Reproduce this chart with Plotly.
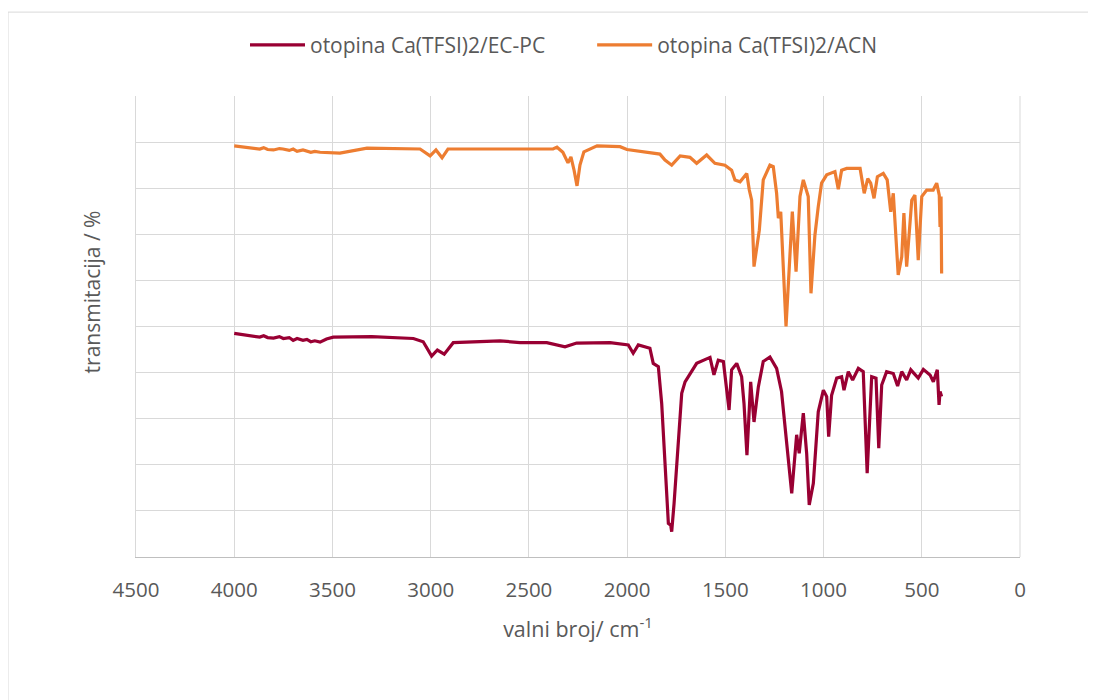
import plotly.graph_objects as go

# ---- data (wavenumber cm-1, transmittance in arbitrary % units) ----
ecpc_wn = [4000, 3960, 3930, 3900, 3870, 3850, 3830, 3800, 3770, 3750, 3720, 3700, 3680, 3650, 3630,
           3610, 3590, 3563, 3530, 3496,
           3300, 3088, 3038, 2995, 2966, 2931, 2885, 2647, 2545, 2409, 2316, 2257, 2087, 1994, 1969,
           1943, 1884, 1867, 1841, 1824, 1807, 1790, 1778, 1773, 1761, 1745, 1722, 1705, 1680, 1646,
           1578, 1558, 1536, 1510, 1481, 1468, 1442, 1417, 1405, 1390, 1371, 1354, 1332, 1307, 1273,
           1239, 1214, 1188, 1162, 1137, 1124, 1103, 1086, 1073, 1052, 1027, 1001, 984, 974, 959,
           933, 908, 896, 874, 852, 823, 798, 778, 755, 733, 719, 704, 679, 645, 623, 602, 577,
           556, 518, 492, 458, 441, 421, 412, 407, 399]
ecpc_t = [48.5, 48.3, 48.1, 48.0, 47.7, 48.0, 47.6, 47.5, 47.8, 47.4, 47.6, 47.0, 47.4, 47.0, 47.2,
          46.7, 46.9, 46.6, 47.3, 47.7,
          47.8, 47.4, 46.7, 43.6, 44.9, 44.0, 46.5, 46.9, 46.5, 46.5, 45.6, 46.4, 46.5, 46.0, 44.2,
          46.0, 45.3, 42.0, 41.3, 33.3, 18.9, 7.3, 6.9, 5.5, 11.6, 22.5, 35.5, 38.0, 39.8, 42.0,
          43.3, 39.5, 42.7, 42.4, 31.9, 40.6, 42.0, 39.1, 33.3, 22.1, 38.0, 29.3, 36.9, 42.4, 43.4,
          40.9, 35.9, 24.7, 13.8, 26.5, 22.5, 31.2, 22.5, 11.3, 16.0, 31.5, 36.2, 34.8, 26.1, 35.1,
          38.8, 39.1, 36.2, 40.2, 38.4, 40.9, 40.2, 18.2, 39.1, 38.8, 23.6, 37.3, 40.2, 39.8, 37.1,
          40.2, 38.4, 40.6, 38.8, 40.7, 39.5, 38.0, 40.6, 33.0, 35.9, 34.8]

acn_wn = [4000, 3960, 3930, 3900, 3870, 3850, 3830, 3800, 3770, 3752, 3720, 3700, 3680, 3650, 3630,
          3610, 3590, 3563, 3462, 3324,
          3054, 3003, 2973, 2942, 2912, 2377, 2357, 2327, 2301, 2286, 2270, 2255, 2240, 2220, 2153,
          2036, 2001, 1833, 1807, 1773, 1730, 1680, 1646, 1595, 1553, 1502, 1468, 1451, 1425, 1391,
          1378, 1366, 1354, 1340, 1327, 1307, 1273, 1256, 1239, 1230, 1218, 1191, 1171, 1159, 1140,
          1120, 1103, 1078, 1064, 1044, 1027, 1010, 984, 942, 925, 908, 882, 814, 793, 775, 760,
          743, 726, 696, 676, 658, 645, 620, 602, 591, 577, 551, 535, 518, 500, 475, 442, 424,
          411, 407, 402, 399]
acn_t = [89.2, 89.0, 88.9, 88.8, 88.5, 88.8, 88.4, 88.3, 88.6, 88.5, 88.2, 88.5, 88.0, 88.3, 88.0,
         87.8, 88.0, 87.8, 87.6, 88.7,
         88.5, 87.0, 88.3, 86.6, 88.5, 88.5, 88.9, 87.8, 85.5, 86.8, 83.9, 80.5, 85.0, 87.9, 89.2,
         89.0, 88.4, 87.4, 86.1, 85.0, 87.0, 86.7, 85.4, 87.2, 85.4, 85.0, 83.9, 81.8, 81.4, 83.2,
         79.6, 77.4, 63.0, 66.6, 70.9, 81.8, 85.0, 84.7, 78.9, 73.5, 74.9, 50.0, 67.3, 74.9, 61.9,
         78.2, 81.8, 78.2, 57.2, 69.8, 76.0, 81.1, 82.9, 83.6, 79.8, 83.9, 84.3, 84.3, 78.9, 82.1, 81.1,
         77.8, 82.5, 83.2, 81.8, 74.9, 78.9, 61.2, 65.1, 74.6, 63.0, 77.4, 78.5, 64.4, 78.2, 79.6, 79.6, 81.1,
         78.5, 71.6, 78.2, 61.5]

series_names = ["otopina Ca(TFSI)2/EC-PC", "otopina Ca(TFSI)2/ACN"]
series_colors = ["#990033", "#ED7D31"]
x_ticks = [4500, 4000, 3500, 3000, 2500, 2000, 1500, 1000, 500, 0]

FONT = "Open Sans"
GREY = "#595959"

fig = go.Figure()
fig.add_trace(go.Scatter(x=ecpc_wn, y=ecpc_t, mode="lines", name=series_names[0],
                         line=dict(color=series_colors[0], width=3.2), legend="legend"))
fig.add_trace(go.Scatter(x=acn_wn, y=acn_t, mode="lines", name=series_names[1],
                         line=dict(color=series_colors[1], width=3.2), legend="legend2"))

leg_common = dict(orientation="h", y=1.11, yanchor="middle", xanchor="left",
                  font=dict(size=21, color=GREY), itemwidth=55, bgcolor="rgba(0,0,0,0)")

fig.update_layout(
    width=1096, height=700,
    margin=dict(l=128, r=84, t=88, b=151),
    paper_bgcolor="white", plot_bgcolor="white",
    font=dict(family=FONT, color=GREY, size=20),
    showlegend=True,
    legend=dict(x=0.1233, **leg_common),
    legend2=dict(x=0.516, **leg_common),
    xaxis=dict(range=[4500, 0], tickvals=x_ticks, ticks="", showgrid=True,
               gridcolor="#d9d9d9", gridwidth=1, showline=True, linecolor="#bfbfbf",
               linewidth=1, zeroline=False, mirror=False, ticklabelstandoff=14,
               tickfont=dict(size=20.5, color=GREY),
               title=dict(text="valni broj/ cm<sup>-1</sup>", font=dict(size=21.5, color=GREY),
                          standoff=20)),
    yaxis=dict(range=[0, 100], dtick=10, showticklabels=False, ticks="", showgrid=True,
               gridcolor="#d9d9d9", gridwidth=1, showline=True, linecolor="#d9d9d9",
               zeroline=False),
    annotations=[dict(text="transmitacija / %", xref="paper", yref="paper",
                      x=-0.0498, y=0.395, xanchor="center", yanchor="bottom",
                      textangle=-90, showarrow=False, font=dict(size=21, color=GREY))],
    shapes=[dict(type="rect", xref="paper", yref="paper", x0=-0.1448, x1=1.3,
                 y0=-0.5, y1=1.182, line=dict(color="#d9d9d9", width=1),
                 fillcolor="rgba(0,0,0,0)", layer="below"),
            dict(type="line", xref="paper", yref="paper", x0=1, x1=1, y0=0, y1=1,
                 line=dict(color="#d9d9d9", width=1), layer="below")],
)

fig.write_html("out.html")
